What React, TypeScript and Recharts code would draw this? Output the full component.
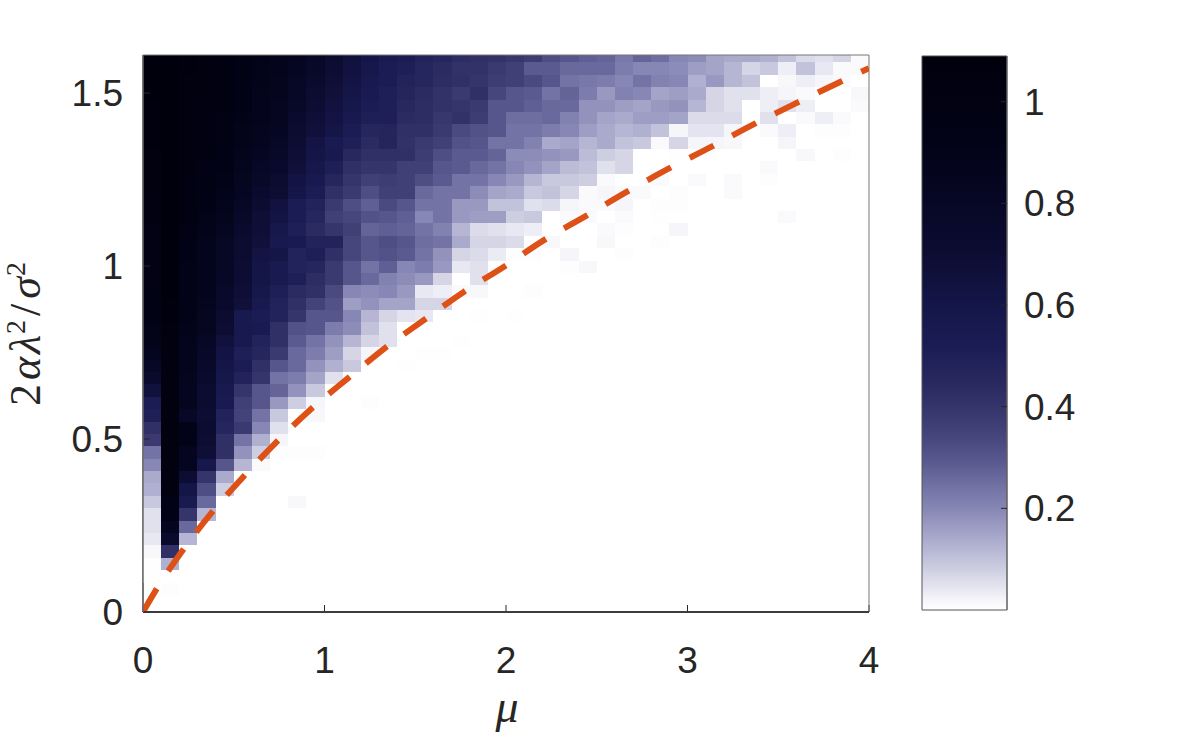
import React from "react";
import { Bar, BarChart, ComposedChart, Line, ReferenceArea, Scatter, XAxis, YAxis } from "recharts";

// Heatmap values, top row first, one column per 0.1 in mu. Columns left out of a row are empty.
const heatRows: number[][] = [
    [1.07, 1.08, 1.06, 1.03, 1.0, 0.96, 0.93, 0.88, 0.85, 0.8, 0.72, 0.65, 0.6, 0.55, 0.52, 0.48, 0.46, 0.43, 0.42, 0.41, 0.39, 0.37, 0.32, 0.3, 0.28, 0.27, 0.23, 0.27, 0.25, 0.2, 0.19, 0.15, 0.14, 0.14, 0.13, 0.1, 0.06, 0.05, 0.07, 0.01],
    [1.07, 1.08, 1.06, 1.03, 1.0, 0.96, 0.9, 0.88, 0.82, 0.78, 0.7, 0.64, 0.58, 0.52, 0.5, 0.46, 0.44, 0.41, 0.41, 0.38, 0.36, 0.29, 0.29, 0.26, 0.26, 0.26, 0.22, 0.2, 0.2, 0.19, 0.16, 0.15, 0.12, 0.07, 0.09, 0.03, 0.1, 0.04, 0.01, 0.01],
    [1.07, 1.08, 1.05, 1.03, 1.0, 0.95, 0.9, 0.86, 0.8, 0.75, 0.68, 0.62, 0.56, 0.52, 0.48, 0.46, 0.43, 0.42, 0.4, 0.37, 0.36, 0.33, 0.3, 0.24, 0.23, 0.22, 0.2, 0.24, 0.21, 0.2, 0.13, 0.17, 0.12, 0.1, 0, 0.015, 0.03, 0.02, 0.01, 0],
    [1.07, 1.08, 1.05, 1.03, 1.0, 0.94, 0.88, 0.85, 0.8, 0.72, 0.66, 0.6, 0.54, 0.5, 0.47, 0.44, 0.41, 0.38, 0.42, 0.34, 0.3, 0.29, 0.24, 0.27, 0.22, 0.17, 0.21, 0.2, 0.15, 0.16, 0.14, 0.07, 0.05, 0.05, 0.03, 0.02, 0.01, 0, 0, 0.015],
    [1.06, 1.08, 1.05, 1.02, 1.0, 0.94, 0.88, 0.84, 0.78, 0.7, 0.64, 0.58, 0.52, 0.5, 0.45, 0.43, 0.41, 0.4, 0.38, 0.3, 0.3, 0.28, 0.26, 0.26, 0.18, 0.18, 0.16, 0.15, 0.17, 0.18, 0.12, 0.07, 0.05, 0, 0.03, 0.05, 0.03, 0, 0, 0.01],
    [1.06, 1.08, 1.05, 1.02, 0.98, 0.92, 0.87, 0.84, 0.75, 0.68, 0.62, 0.56, 0.5, 0.5, 0.44, 0.43, 0.39, 0.41, 0.37, 0.3, 0.25, 0.25, 0.26, 0.21, 0.18, 0.15, 0.14, 0.16, 0.16, 0.15, 0.06, 0.06, 0.06, 0, 0.05, 0, 0.01, 0.03, 0.01],
    [1.06, 1.08, 1.05, 1.0, 0.97, 0.9, 0.86, 0.82, 0.72, 0.66, 0.6, 0.52, 0.46, 0.47, 0.42, 0.42, 0.38, 0.33, 0.31, 0.3, 0.24, 0.24, 0.22, 0.2, 0.16, 0.14, 0.12, 0.13, 0.1, 0.02, 0.045, 0.045, 0.02, 0, 0.01, 0.03, 0, 0.005, 0.005],
    [1.06, 1.08, 1.04, 1.0, 0.96, 0.9, 0.85, 0.8, 0.7, 0.62, 0.54, 0.5, 0.44, 0.47, 0.41, 0.38, 0.36, 0.31, 0.3, 0.24, 0.24, 0.21, 0.14, 0.15, 0.12, 0.14, 0.1, 0.09, 0.01, 0.07, 0.02, 0.02, 0.015, 0, 0, 0.02],
    [1.05, 1.08, 1.04, 1.0, 0.94, 0.88, 0.82, 0.78, 0.68, 0.6, 0.56, 0.45, 0.42, 0.42, 0.42, 0.37, 0.32, 0.29, 0.29, 0.27, 0.19, 0.19, 0.18, 0.17, 0.11, 0.08, 0.07, 0, 0, 0.003, 0, 0, 0, 0, 0, 0, 0.015, 0, 0.005],
    [1.05, 1.08, 1.03, 0.98, 0.94, 0.86, 0.8, 0.76, 0.66, 0.58, 0.5, 0.42, 0.4, 0.4, 0.36, 0.36, 0.3, 0.29, 0.26, 0.24, 0.2, 0.18, 0.15, 0.11, 0.1, 0.05, 0.07, 0, 0, 0, 0, 0, 0, 0, 0.01],
    [1.04, 1.08, 1.02, 0.96, 0.92, 0.84, 0.78, 0.72, 0.62, 0.56, 0.46, 0.4, 0.36, 0.37, 0.36, 0.32, 0.29, 0.24, 0.24, 0.2, 0.17, 0.12, 0.09, 0.09, 0.08, 0.01, 0, 0, 0.01, 0, 0.01, 0, 0.01, 0, 0.005],
    [1.04, 1.08, 1.02, 0.96, 0.9, 0.82, 0.74, 0.7, 0.6, 0.52, 0.42, 0.38, 0.32, 0.36, 0.36, 0.26, 0.24, 0.24, 0.19, 0.15, 0.14, 0.09, 0.1, 0.07, 0.01, 0.02, 0.01, 0.01, 0, 0.005, 0, 0, 0.01],
    [1.02, 1.08, 1.0, 0.95, 0.88, 0.8, 0.72, 0.64, 0.52, 0.48, 0.38, 0.32, 0.28, 0.33, 0.3, 0.24, 0.24, 0.17, 0.17, 0.1, 0.1, 0.05, 0.06, 0.02, 0.01, 0.01, 0.02, 0, 0.005, 0.005],
    [1.02, 1.08, 1.0, 0.92, 0.86, 0.78, 0.68, 0.62, 0.52, 0.46, 0.36, 0.34, 0.31, 0.3, 0.28, 0.2, 0.24, 0.17, 0.16, 0.16, 0.08, 0.09, 0, 0.01, 0.01, 0, 0.01, 0, 0.003, 0, 0, 0, 0, 0, 0, 0.01],
    [0.98, 1.08, 0.98, 0.9, 0.84, 0.74, 0.68, 0.58, 0.5, 0.44, 0.4, 0.36, 0.27, 0.28, 0.27, 0.24, 0.21, 0.12, 0.06, 0.05, 0.04, 0.03, 0, 0, 0, 0.01, 0.005, 0, 0, 0.02],
    [0.98, 1.08, 0.95, 0.88, 0.8, 0.72, 0.66, 0.56, 0.54, 0.48, 0.48, 0.34, 0.3, 0.32, 0.3, 0.25, 0.24, 0.14, 0.07, 0.07, 0.06, 0, 0.015, 0, 0, 0.015, 0, 0, 0.005],
    [0.98, 1.08, 0.95, 0.88, 0.8, 0.72, 0.62, 0.6, 0.48, 0.5, 0.42, 0.34, 0.3, 0.31, 0.29, 0.24, 0.18, 0.07, 0.06, 0.035, 0.005, 0.005, 0, 0.02, 0, 0, 0.005],
    [0.98, 1.08, 0.93, 0.88, 0.8, 0.7, 0.6, 0.55, 0.48, 0.46, 0.38, 0.3, 0.24, 0.28, 0.2, 0.22, 0.17, 0.04, 0.05, 0, 0, 0, 0, 0.005, 0.015],
    [0.98, 1.08, 0.93, 0.88, 0.8, 0.7, 0.6, 0.55, 0.5, 0.43, 0.38, 0.3, 0.26, 0.21, 0.19, 0.17, 0.07, 0, 0.05],
    [0.98, 1.08, 0.93, 0.88, 0.76, 0.68, 0.58, 0.5, 0.44, 0.42, 0.33, 0.2, 0.19, 0.2, 0.17, 0.04, 0.03, 0.01, 0.015, 0, 0, 0.005],
    [0.96, 1.06, 0.92, 0.86, 0.74, 0.66, 0.56, 0.48, 0.42, 0.35, 0.31, 0.16, 0.18, 0.15, 0.15, 0.07, 0.07],
    [0.96, 1.06, 0.92, 0.84, 0.72, 0.56, 0.52, 0.48, 0.4, 0.3, 0.3, 0.2, 0.12, 0.07, 0.045, 0.04, 0, 0, 0.003, 0, 0.003],
    [0.92, 1.05, 0.9, 0.84, 0.7, 0.56, 0.54, 0.42, 0.31, 0.3, 0.22, 0.19, 0.1, 0.05],
    [0.9, 1.05, 0.88, 0.8, 0.65, 0.56, 0.48, 0.42, 0.29, 0.24, 0.18, 0.12, 0.07, 0.05, 0, 0, 0, 0.003],
    [0.85, 1.05, 0.88, 0.78, 0.62, 0.5, 0.46, 0.38, 0.26, 0.22, 0.16, 0.07, 0.02, 0, 0, 0.003, 0.003],
    [0.8, 1.05, 0.88, 0.76, 0.6, 0.52, 0.42, 0.3, 0.26, 0.18, 0.13, 0.09, 0, 0, 0.003],
    [0.75, 1.05, 0.86, 0.74, 0.58, 0.48, 0.4, 0.24, 0.22, 0.15, 0.05],
    [0.65, 1.05, 0.85, 0.72, 0.56, 0.4, 0.3, 0.27, 0.18, 0.09],
    [0.52, 1.05, 0.85, 0.72, 0.54, 0.36, 0.3, 0.17, 0.08, 0.02, 0, 0, 0.005],
    [0.5, 1.05, 0.8, 0.7, 0.48, 0.35, 0.24, 0.09, 0, 0.015],
    [0.42, 1.05, 0.92, 0.72, 0.46, 0.38, 0.2, 0.05],
    [0.38, 1.05, 0.92, 0.7, 0.42, 0.24, 0.13, 0.02],
    [0.24, 1.05, 0.85, 0.68, 0.42, 0.18, 0.08, 0.005, 0.005, 0.005],
    [0.2, 1.05, 0.85, 0.58, 0.3, 0.12, 0.01],
    [0.14, 1.05, 0.7, 0.4, 0.14],
    [0.13, 1.03, 0.6, 0.32, 0.08],
    [0.09, 0.95, 0.55, 0.26, 0, 0, 0, 0, 0.015],
    [0.05, 0.95, 0.4, 0.12],
    [0.05, 0.85, 0.26],
    [0.04, 0.75, 0.12],
    [0.015, 0.42],
    [0.003, 0.13],
    [0.003],
    [0, 0.005],
    [],
    [],
];

// colormap stops
const colorStops: [number, number[]][] = [
    [0, [255, 255, 255]],
    [0.02, [245, 245, 250]],
    [0.05, [225, 225, 238]],
    [0.09, [200, 200, 222]],
    [0.14, [170, 170, 205]],
    [0.19, [140, 140, 185]],
    [0.24, [115, 115, 165]],
    [0.29, [90, 90, 145]],
    [0.34, [70, 70, 125]],
    [0.39, [55, 55, 110]],
    [0.45, [40, 40, 95]],
    [0.52, [28, 28, 85]],
    [0.6, [20, 22, 72]],
    [0.68, [14, 14, 55]],
    [0.78, [8, 8, 40]],
    [0.9, [3, 3, 25]],
    [1.09, [0, 0, 12]],
];

// dashed boundary curve
const curveX = [0, 0.066, 0.213, 0.375, 0.553, 0.731, 0.92, 1.13, 1.333, 1.548, 1.769, 1.989, 2.209, 2.441, 2.667, 2.898, 3.133, 3.366, 3.603, 3.84, 4.0];
const curveY = [0, 0.059, 0.174, 0.285, 0.391, 0.489, 0.584, 0.676, 0.763, 0.844, 0.926, 0.998, 1.075, 1.145, 1.215, 1.282, 1.345, 1.41, 1.472, 1.532, 1.572];

const xTicks = [0, 1, 2, 3, 4];
const yTicks = [0, 0.5, 1, 1.5];
const barTicks = [0.2, 0.4, 0.6, 0.8, 1];

const PLOT = { left: 143, right: 869, top: 55, bottom: 612 };
const COLS = 40;
const Y_MAX = 1.61;
const ROW_TOP = 1.5887; // y of the lower edge of the clipped top row
const ROW_STEP = 0.0358;
const TEXT = "#262626";
const SANS = "'Liberation Sans', Arial, sans-serif";
const SERIF = "'Liberation Serif', 'DejaVu Serif', serif";

const colorFor = (v: number) => {
    let i = 0;
    while (i < colorStops.length - 2 && v > colorStops[i + 1][0]) i++;
    const [a, ca] = colorStops[i];
    const [b, cb] = colorStops[i + 1];
    const t = Math.min(1, Math.max(0, (v - a) / (b - a)));
    const c = ca.map((n, k) => Math.round(n + (cb[k] - n) * t));
    return `rgb(${c[0]},${c[1]},${c[2]})`;
};

const cells = heatRows.flatMap((row, r) =>
    row
        .map((value, c) => ({ x: (c + 0.5) * 0.1, y: ROW_TOP - ROW_STEP * (r - 0.5), value }))
        .filter((d) => d.value > 0)
);

const curve = curveX.map((x, i) => ({ x, y: curveY[i] }));

const HeatCell = (props: any) => {
    const { cx, cy, payload } = props;
    const w = (PLOT.right - PLOT.left) / COLS;
    const h = (ROW_STEP * (PLOT.bottom - PLOT.top)) / Y_MAX;
    const x0 = Math.round(cx - w / 2);
    const x1 = Math.round(cx + w / 2);
    const y0 = Math.round(Math.max(cy - h / 2, PLOT.top));
    const y1 = Math.round(Math.min(cy + h / 2, PLOT.bottom));
    return <rect x={x0} y={y0} width={x1 - x0} height={y1 - y0} fill={colorFor(payload.value)} shapeRendering="crispEdges" />;
};

const XTick = ({ x, y, payload }: any) => (
    <g>
        <line x1={x} x2={x} y1={y - 8} y2={y - 15} stroke={TEXT} strokeWidth={1} />
        <text x={x} y={y + 53} textAnchor="middle" fontFamily={SANS} fontSize={37} fill={TEXT}>
            {payload.value}
        </text>
    </g>
);

const YTick = ({ x, y, payload }: any) => (
    <g>
        <line x1={x + 8} x2={x + 15} y1={y} y2={y} stroke={TEXT} strokeWidth={1} />
        <text x={x - 12} y={y + 13} textAnchor="end" fontFamily={SANS} fontSize={37} fill={TEXT}>
            {payload.value}
        </text>
    </g>
);

const BarTick = ({ x, y, payload }: any) => (
    <g>
        <line x1={x - 8} x2={x - 14} y1={y} y2={y} stroke={TEXT} strokeWidth={1} />
        <text x={x + 9} y={y + 13} textAnchor="start" fontFamily={SANS} fontSize={37} fill={TEXT}>
            {payload.value}
        </text>
    </g>
);

const YLabel = () => (
    <text transform="translate(40,334) rotate(-90)" textAnchor="middle" fontFamily={SERIF} fontSize={44} fill={TEXT}>
        <tspan>2</tspan>
        <tspan fontStyle="italic" dx={4}>α</tspan>
        <tspan fontStyle="italic" dx={3}>λ</tspan>
        <tspan fontSize={28} dy={-15} dx={1}>2</tspan>
        <tspan dy={15} dx={4}>/</tspan>
        <tspan fontStyle="italic" dx={5}>σ</tspan>
        <tspan fontSize={28} dy={-15} dx={1}>2</tspan>
    </text>
);

const XLabel = () => (
    <text x={507} y={722} textAnchor="middle" fontFamily={SERIF} fontStyle="italic" fontSize={46} fill={TEXT}>
        μ
    </text>
);

const colorbarData = [{ name: "scale", value: 1.09 }];

const plotMargin = { left: 63, right: 312, top: PLOT.top, bottom: 46 };

export default function App() {
    return (
        <div style={{ position: "absolute", left: 0, top: 0, width: 1181, height: 738, background: "#fff" }}>
            <div style={{ position: "absolute", left: 0, top: 0 }}>
                <ComposedChart width={1181} height={738} margin={plotMargin}>
                    <XAxis
                        type="number"
                        dataKey="x"
                        domain={[0, 4]}
                        ticks={xTicks}
                        height={80}
                        allowDataOverflow
                        stroke={TEXT}
                        tickLine={false}
                        tick={<XTick />}
                        label={<XLabel />}
                    />
                    <YAxis
                        type="number"
                        dataKey="y"
                        domain={[0, Y_MAX]}
                        ticks={yTicks}
                        width={80}
                        allowDataOverflow
                        stroke={TEXT}
                        tickLine={false}
                        tick={<YTick />}
                        label={<YLabel />}
                    />
                    <Scatter data={cells} dataKey="y" shape={<HeatCell />} isAnimationActive={false} />
                </ComposedChart>
            </div>
            {/* second layer so the box and the dashed curve sit above the cells */}
            <div style={{ position: "absolute", left: 0, top: 0 }}>
                <ComposedChart width={1181} height={738} margin={plotMargin}>
                    <XAxis type="number" dataKey="x" domain={[0, 4]} ticks={xTicks} height={80} allowDataOverflow tick={false} tickLine={false} stroke={TEXT} strokeWidth={1.5} />
                    <YAxis type="number" dataKey="y" domain={[0, Y_MAX]} ticks={yTicks} width={80} allowDataOverflow tick={false} tickLine={false} stroke="#666" />
                    <ReferenceArea x1={0} x2={4} y1={0} y2={Y_MAX} fill="none" stroke="#777" strokeWidth={1} />
                    <Line
                        data={curve}
                        dataKey="y"
                        type="monotone"
                        stroke="#dd5016"
                        strokeWidth={6}
                        strokeDasharray="27 21"
                        dot={false}
                        activeDot={false}
                        isAnimationActive={false}
                    />
                </ComposedChart>
            </div>
            <div style={{ position: "absolute", left: 0, top: 0 }}>
                <BarChart
                    width={1181}
                    height={738}
                    data={colorbarData}
                    margin={{ left: 922, right: 94, top: 56, bottom: 128 }}
                    barCategoryGap={0}
                >
                    <defs>
                        <linearGradient id="scaleFill" x1="0" y1="1" x2="0" y2="0">
                            {colorStops.map(([v, c]) => (
                                <stop key={v} offset={v / 1.09} stopColor={`rgb(${c[0]},${c[1]},${c[2]})`} />
                            ))}
                        </linearGradient>
                    </defs>
                    <XAxis dataKey="name" hide />
                    <YAxis
                        orientation="right"
                        type="number"
                        domain={[0, 1.09]}
                        ticks={barTicks}
                        width={80}
                        stroke="#666"
                        tickLine={false}
                        tick={<BarTick />}
                    />
                    <Bar dataKey="value" fill="url(#scaleFill)" stroke="#555" strokeWidth={1} isAnimationActive={false} />
                </BarChart>
            </div>
        </div>
    );
}
